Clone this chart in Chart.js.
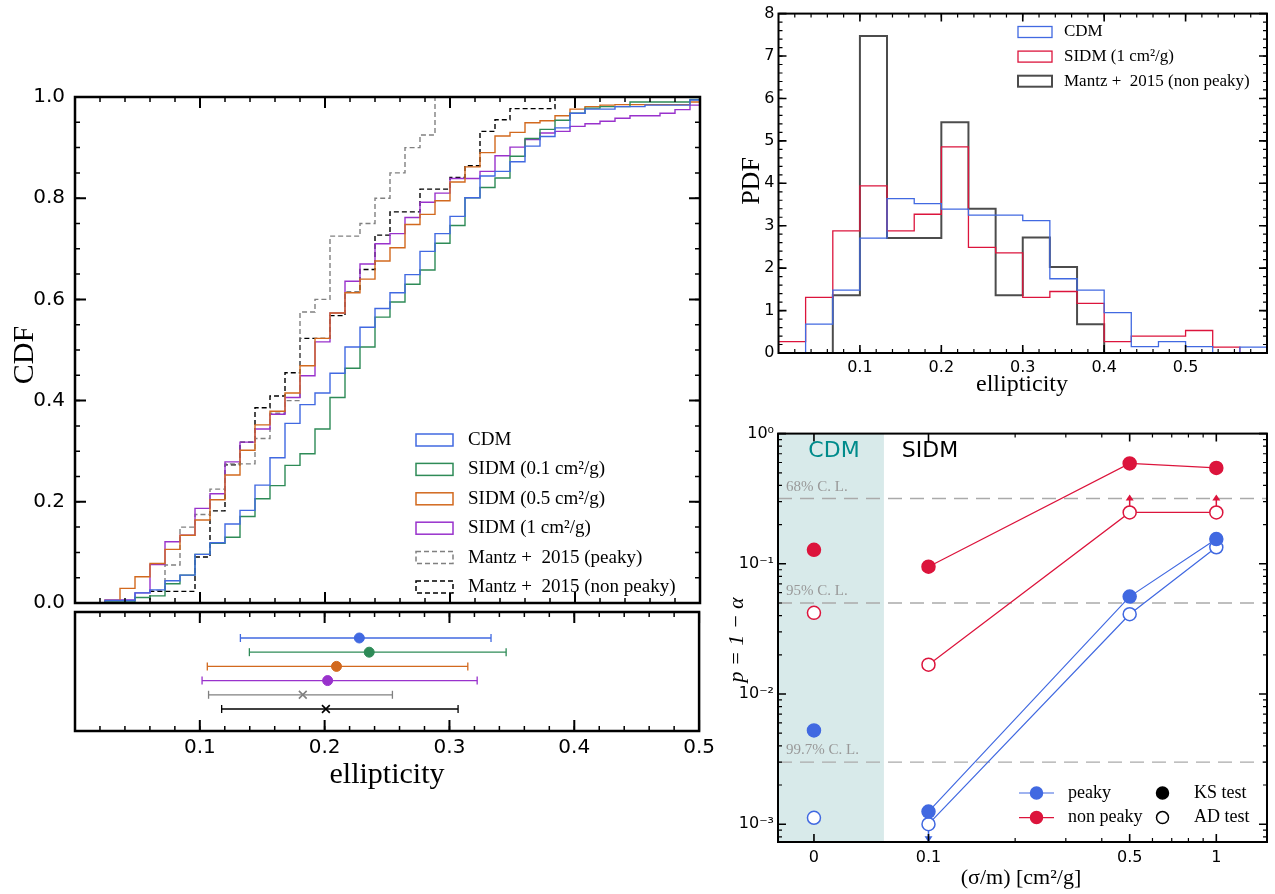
<!DOCTYPE html>
<html>
<head>
<meta charset="utf-8">
<script src="https://cdn.jsdelivr.net/npm/chart.js@4.4.1/dist/chart.umd.min.js"></script>
<style>
  body { margin: 0; background: #fff; }
  #wrap { position: relative; width: 1275px; height: 894px; overflow: hidden; background: #fff; }
  canvas { position: absolute; }
</style>
</head>
<body>
<div id="wrap">
  <canvas id="cdf" width="720" height="625" style="left:0;top:0"></canvas>
  <canvas id="err" width="720" height="294" style="left:0;top:600px"></canvas>
  <canvas id="pdf" width="555" height="420" style="left:720px;top:0"></canvas>
  <canvas id="pval" width="555" height="474" style="left:720px;top:420px"></canvas>
</div>
<script>
// ---- CDF panel (left, top) ----
const cdfEdges = [0.024, 0.036, 0.048, 0.060, 0.072, 0.084, 0.096, 0.108, 0.120, 0.132,
  0.144, 0.156, 0.168, 0.180, 0.192, 0.204, 0.216, 0.228, 0.240, 0.252,
  0.264, 0.276, 0.288, 0.300, 0.312, 0.324, 0.336, 0.348, 0.360, 0.372,
  0.384, 0.396, 0.408, 0.420, 0.432, 0.444, 0.456, 0.468, 0.480, 0.492];
const cdfCDM = [0.005, 0.005, 0.020, 0.026, 0.044, 0.055, 0.096, 0.119, 0.156, 0.183,
  0.233, 0.287, 0.355, 0.392, 0.415, 0.454, 0.506, 0.545, 0.582, 0.613,
  0.649, 0.695, 0.730, 0.764, 0.801, 0.844, 0.853, 0.872, 0.903, 0.922,
  0.939, 0.968, 0.976, 0.976, 0.981, 0.981, 0.984, 0.984, 0.984, 0.994];
const cdfSIDM01 = [0.002, 0.002, 0.011, 0.014, 0.038, 0.055, 0.096, 0.118, 0.130, 0.171,
  0.206, 0.232, 0.272, 0.295, 0.344, 0.406, 0.464, 0.506, 0.565, 0.595,
  0.630, 0.658, 0.711, 0.746, 0.801, 0.821, 0.840, 0.883, 0.918, 0.936,
  0.954, 0.968, 0.978, 0.981, 0.981, 0.990, 0.990, 0.990, 0.990, 0.995];
const cdfSIDM05 = [0.005, 0.029, 0.052, 0.078, 0.106, 0.134, 0.164, 0.204, 0.253, 0.302,
  0.352, 0.379, 0.415, 0.469, 0.523, 0.573, 0.613, 0.640, 0.676, 0.702,
  0.748, 0.768, 0.795, 0.832, 0.862, 0.890, 0.923, 0.930, 0.949, 0.953,
  0.963, 0.976, 0.981, 0.984, 0.985, 0.985, 0.985, 0.985, 0.985, 0.990];
const cdfSIDM1 = [0.006, 0.006, 0.020, 0.076, 0.121, 0.134, 0.187, 0.216, 0.279, 0.318,
  0.344, 0.373, 0.406, 0.449, 0.516, 0.573, 0.636, 0.670, 0.710, 0.730,
  0.762, 0.792, 0.810, 0.839, 0.839, 0.853, 0.884, 0.901, 0.916, 0.929,
  0.932, 0.942, 0.947, 0.952, 0.958, 0.963, 0.963, 0.968, 0.975, 0.984];
const cdfMantzPeaky = [0, 0, 0, 0.025, 0.075, 0.150, 0.175, 0.225, 0.275, 0.275,
  0.325, 0.375, 0.400, 0.575, 0.600, 0.725, 0.725, 0.750, 0.800, 0.850,
  0.900, 0.925, 1, 1, 1, 1, 1, 1, 1, 1,
  1, 1, 1, 1, 1, 1, 1, 1, 1, 1];
const cdfMantzNonPeaky = [0, 0, 0, 0.023, 0.023, 0.023, 0.091, 0.182, 0.273, 0.318,
  0.386, 0.409, 0.455, 0.523, 0.523, 0.568, 0.614, 0.659, 0.727, 0.773,
  0.773, 0.818, 0.818, 0.841, 0.864, 0.932, 0.955, 0.977, 0.977, 0.977,
  1, 1, 1, 1, 1, 1, 1, 1, 1, 1];
const cdfYTicks = [0.0, 0.2, 0.4, 0.6, 0.8, 1.0];
const ellTicks = [0.1, 0.2, 0.3, 0.4, 0.5];

// ---- mean / 1-sigma panel (left, bottom) ----
const errLow = [0.1325, 0.1397, 0.1060, 0.1018, 0.1070, 0.1175];
const errMid = [0.2278, 0.2357, 0.2095, 0.2024, 0.1825, 0.2010];
const errHigh = [0.3333, 0.3454, 0.3147, 0.3222, 0.2543, 0.3069];

// ---- PDF panel (right, top) ----
const pdfEdges = [0, 0.0333, 0.0667, 0.1, 0.1333, 0.1667, 0.2, 0.2333, 0.2667, 0.3,
  0.3333, 0.3667, 0.4, 0.4333, 0.4667, 0.5, 0.5333, 0.5667, 0.6];
const pdfCDM = [0, 0.68, 1.48, 2.71, 3.64, 3.52, 3.39, 3.25, 3.25, 3.12,
  1.75, 1.48, 0.95, 0.15, 0.27, 0.15, 0, 0.14];
const pdfSIDM1 = [0.27, 1.31, 2.88, 3.94, 2.88, 3.27, 4.86, 2.49, 2.36, 1.31,
  1.45, 1.17, 0.27, 0.40, 0.40, 0.53, 0.14, 0];
const pdfMantzNonPeaky = [0, 0, 1.36, 7.47, 2.71, 2.71, 5.44, 3.40, 1.36, 2.72,
  2.03, 0.68, 0, 0, 0, 0, 0, 0];
const pdfYTicks = [0, 1, 2, 3, 4, 5, 6, 7, 8];

// ---- p-value panel (right, bottom) ----
const sigmaLabels = ['0', '0.1', '0.5', '1'];
const sigmaPos = [0.04, 0.1, 0.5, 1];          // "0" (CDM) is placed at 0.04 on the log axis
const ksPeaky = [0.00525, 0.00125, 0.056, 0.155];
const adPeaky = [0.00112, 0.00100, 0.041, 0.134];
const ksNonPeaky = [0.128, 0.095, 0.59, 0.545];
const adNonPeaky = [0.042, 0.0168, 0.248, 0.248];
const adPeakyLimit = [0, -1, 0, 0];            // -1: upper limit arrow
const adNonPeakyLimit = [0, 0, 1, 1];          // +1: lower limit arrow
const clLevels = [0.317, 0.05, 0.003];
const clLabels = ['68% C. L.', '95% C. L.', '99.7% C. L.'];
const cdmBand = [0.03, 0.07];
const pYTicks = [0.001, 0.01, 0.1, 1];

const BLUE = '#4169e1', GREEN = '#2e8b57', ORANGE = '#d2691e', PURPLE = '#9932cc',
  GRAY = '#808080', BLACK = '#000000', RED = '#dc143c', TEAL = '#008b8b';
const SERIF = '"Liberation Serif", "DejaVu Serif", serif';
const SANS = '"DejaVu Sans", sans-serif';

function range(a, b, step) {
  const out = [];
  for (let v = a; v <= b + 1e-9; v += step) out.push(Math.round(v * 1e6) / 1e6);
  return out;
}
function stepPoints(edges, vals, xEnd) {
  const pts = [{ x: edges[0], y: 0 }];
  edges.forEach((e, i) => pts.push({ x: e, y: vals[i] }));
  pts.push({ x: xEnd, y: vals[vals.length - 1] });
  return pts;
}
function histPoints(edges, vals) {
  const pts = [{ x: edges[0], y: 0 }];
  vals.forEach((v, i) => pts.push({ x: edges[i], y: v }));
  pts.push({ x: edges[vals.length], y: 0 });
  return pts;
}
const fixTicks = vals => s => { s.ticks = vals.map(v => ({ value: v })); };

// inward ticks on all sides + black frame
const frameTicks = {
  id: 'frameTicks',
  afterDatasetsDraw(chart, args, o) {
    const { ctx, chartArea: a, scales } = chart;
    ctx.save();
    ctx.strokeStyle = '#000';
    const tick = (axis, vals, len, lw) => {
      if (!vals) return;
      ctx.lineWidth = lw;
      ctx.beginPath();
      vals.forEach(v => {
        if (axis === 'x') {
          const px = scales.x.getPixelForValue(v);
          ctx.moveTo(px, a.bottom); ctx.lineTo(px, a.bottom - len);
          ctx.moveTo(px, a.top); ctx.lineTo(px, a.top + len);
        } else {
          const py = scales.y.getPixelForValue(v);
          ctx.moveTo(a.left, py); ctx.lineTo(a.left + len, py);
          ctx.moveTo(a.right, py); ctx.lineTo(a.right - len, py);
        }
      });
      ctx.stroke();
    };
    tick('x', o.xMinor, o.minorLen, o.minorWidth);
    tick('x', o.xMajor, o.majorLen, o.majorWidth);
    tick('y', o.yMinor, o.minorLen, o.minorWidth);
    tick('y', o.yMajor, o.majorLen, o.majorWidth);
    ctx.lineWidth = o.frameWidth;
    ctx.strokeRect(a.left, a.top, a.right - a.left, a.bottom - a.top);
    ctx.restore();
  }
};

// free text (axis titles, annotations)
const textLabels = {
  id: 'textLabels',
  afterDraw(chart, args, o) {
    const ctx = chart.ctx;
    (o.items || []).forEach(t => {
      ctx.save();
      ctx.translate(t.x, t.y);
      if (t.rot) ctx.rotate(t.rot);
      ctx.font = t.font;
      ctx.fillStyle = t.color || '#000';
      ctx.textAlign = t.align || 'center';
      ctx.textBaseline = 'middle';
      ctx.fillText(t.text, 0, 0);
      ctx.restore();
    });
  }
};

// legend drawn at a fixed spot inside the axes
const legendBox = {
  id: 'legendBox',
  afterDraw(chart, args, o) {
    if (!o.items) return;
    const ctx = chart.ctx;
    ctx.save();
    ctx.font = o.font;
    ctx.textBaseline = 'middle';
    ctx.textAlign = 'left';
    o.items.forEach((it, i) => {
      const y = o.y + i * o.dy;
      const x = it.x !== undefined ? it.x : o.x;
      const yy = it.y !== undefined ? it.y : y;
      ctx.strokeStyle = it.color;
      ctx.lineWidth = it.width || 1.5;
      ctx.setLineDash(it.dash || []);
      if (it.kind === 'rect') {
        ctx.fillStyle = '#fff';
        ctx.fillRect(x, yy - o.h / 2, o.w, o.h);
        ctx.strokeRect(x, yy - o.h / 2, o.w, o.h);
      } else if (it.kind === 'line') {
        ctx.beginPath(); ctx.moveTo(x, yy); ctx.lineTo(x + o.w, yy); ctx.stroke();
      }
      ctx.setLineDash([]);
      if (it.marker) {
        ctx.beginPath();
        ctx.arc(x + o.w / 2, yy, 6, 0, Math.PI * 2);
        ctx.fillStyle = it.marker === 'open' ? '#fff' : it.color;
        ctx.fill();
        ctx.lineWidth = 1.5;
        ctx.stroke();
      }
      ctx.fillStyle = '#000';
      ctx.fillText(it.text, x + o.w + o.gap, yy);
    });
    ctx.restore();
  }
};

const baseOpts = (padding) => ({
  responsive: false,
  animation: false,
  devicePixelRatio: 1,
  layout: { padding },
  elements: { line: { tension: 0 } },
});

// ================= CDF =================
const cdfSeries = [
  { name: 'CDM', vals: cdfCDM, color: BLUE, dash: [] },
  { name: 'SIDM (0.1 cm²/g)', vals: cdfSIDM01, color: GREEN, dash: [] },
  { name: 'SIDM (0.5 cm²/g)', vals: cdfSIDM05, color: ORANGE, dash: [] },
  { name: 'SIDM (1 cm²/g)', vals: cdfSIDM1, color: PURPLE, dash: [] },
  { name: 'Mantz +  2015 (peaky)', vals: cdfMantzPeaky, color: GRAY, dash: [5, 3] },
  { name: 'Mantz +  2015 (non peaky)', vals: cdfMantzNonPeaky, color: BLACK, dash: [5, 3] },
];

new Chart(document.getElementById('cdf'), {
  type: 'line',
  data: {
    datasets: cdfSeries.map(s => ({
      label: s.name,
      data: stepPoints(cdfEdges, s.vals, 0.5),
      borderColor: s.color,
      borderWidth: 1.4,
      borderDash: s.dash,
      stepped: true,
      pointRadius: 0,
      fill: false,
    })),
  },
  options: {
    ...baseOpts({ left: 0, top: 97, right: 20, bottom: 14 }),
    plugins: {
      legend: { display: false },
      tooltip: { enabled: false },
      frameTicks: {
        xMajor: ellTicks, xMinor: range(0.02, 0.48, 0.02),
        yMajor: cdfYTicks, yMinor: range(0.05, 0.95, 0.05),
        majorLen: 11, minorLen: 5, majorWidth: 2, minorWidth: 1.5, frameWidth: 2.5,
      },
      legendBox: {
        x: 416, y: 440, dy: 29.4, w: 37, h: 12, gap: 15, font: '19px ' + SERIF,
        items: cdfSeries.map(s => ({ kind: 'rect', color: s.color, dash: s.dash, text: s.name })),
      },
      textLabels: {
        items: [{ text: 'CDF', x: 25, y: 355, rot: -Math.PI / 2, font: '30px ' + SERIF }],
      },
    },
    scales: {
      x: { type: 'linear', min: 0, max: 0.5, display: false },
      y: {
        type: 'linear', min: 0, max: 1,
        afterFit: s => { s.width = 75; },
        afterBuildTicks: fixTicks(cdfYTicks),
        grid: { display: false, drawTicks: false },
        border: { display: false },
        ticks: { font: { family: SANS, size: 20 }, color: '#000', padding: 10, callback: v => v.toFixed(1) },
      },
    },
  },
  plugins: [frameTicks, legendBox, textLabels],
});

// ================= mean +- spread =================
const errColors = [BLUE, GREEN, ORANGE, PURPLE, GRAY, BLACK];
const errDatasets = [];
errLow.forEach((lo, i) => {
  errDatasets.push({
    data: [{ x: lo, y: i + 1 }, { x: errHigh[i], y: i + 1 }],
    borderColor: errColors[i], borderWidth: 1.3,
    pointStyle: 'line', pointRotation: 90, pointRadius: 4,
    pointBorderColor: errColors[i], pointBorderWidth: 1.3,
  });
  errDatasets.push({
    data: [{ x: errMid[i], y: i + 1 }],
    showLine: false,
    pointStyle: i < 4 ? 'circle' : 'crossRot',
    pointRadius: i < 4 ? 5 : 5.5,
    pointBackgroundColor: errColors[i], pointBorderColor: errColors[i],
    pointBorderWidth: i < 4 ? 1 : 1.6,
  });
});

new Chart(document.getElementById('err'), {
  type: 'line',
  data: { datasets: errDatasets },
  options: {
    ...baseOpts({ left: 75, top: 12, right: 20, bottom: 133 }),
    plugins: {
      legend: { display: false },
      tooltip: { enabled: false },
      frameTicks: {
        xMajor: ellTicks, xMinor: range(0.02, 0.48, 0.02),
        majorLen: 11, minorLen: 5, majorWidth: 2, minorWidth: 1.5, frameWidth: 2.5,
      },
      textLabels: {
        items: [{ text: 'ellipticity', x: 387, y: 175, font: '30px ' + SERIF }],
      },
    },
    scales: {
      x: {
        type: 'linear', min: 0, max: 0.5,
        afterFit: s => { s.height = 30; },
        afterBuildTicks: fixTicks(ellTicks),
        grid: { display: false, drawTicks: false },
        border: { display: false },
        ticks: { font: { family: SANS, size: 20 }, color: '#000', padding: 5, maxRotation: 0, autoSkip: false, callback: v => v.toFixed(1) },
      },
      y: { type: 'linear', min: -0.83, max: 7.55, reverse: true, display: false },
    },
  },
  plugins: [frameTicks, textLabels],
});

// ================= PDF =================
const pdfSeries = [
  { name: 'CDM', vals: pdfCDM, color: BLUE, width: 1.3 },
  { name: 'SIDM (1 cm²/g)', vals: pdfSIDM1, color: RED, width: 1.3 },
  { name: 'Mantz +  2015 (non peaky)', vals: pdfMantzNonPeaky, color: 'rgba(0,0,0,0.7)', width: 2 },
];

new Chart(document.getElementById('pdf'), {
  type: 'line',
  data: {
    datasets: pdfSeries.map(s => ({
      label: s.name,
      data: histPoints(pdfEdges, s.vals),
      borderColor: s.color, borderWidth: s.width,
      stepped: true, pointRadius: 0, fill: false,
    })),
  },
  options: {
    ...baseOpts({ left: 0, top: 9, right: 8, bottom: 42 }),
    plugins: {
      legend: { display: false },
      tooltip: { enabled: false },
      frameTicks: {
        xMajor: [0.1, 0.2, 0.3, 0.4, 0.5], xMinor: range(0.02, 0.58, 0.02),
        yMajor: pdfYTicks, yMinor: range(0.2, 7.8, 0.2),
        majorLen: 8, minorLen: 4, majorWidth: 1.6, minorWidth: 1.2, frameWidth: 2,
      },
      legendBox: {
        x: 298, y: 32, dy: 24.6, w: 34, h: 11, gap: 12, font: '17px ' + SERIF,
        items: pdfSeries.map(s => ({ kind: 'rect', color: s.color, width: s.width, text: s.name })),
      },
      textLabels: {
        items: [
          { text: 'PDF', x: 32, y: 181, rot: -Math.PI / 2, font: '26px ' + SERIF },
          { text: 'ellipticity', x: 302, y: 385, font: '24px ' + SERIF },
        ],
      },
    },
    scales: {
      x: {
        type: 'linear', min: 0, max: 0.6,
        afterFit: s => { s.height = 25; },
        afterBuildTicks: fixTicks([0.1, 0.2, 0.3, 0.4, 0.5]),
        grid: { display: false, drawTicks: false },
        border: { display: false },
        ticks: { font: { family: SANS, size: 16 }, color: '#000', padding: 5, maxRotation: 0, autoSkip: false, callback: v => v.toFixed(1) },
      },
      y: {
        type: 'linear', min: 0, max: 8,
        afterFit: s => { s.width = 58.5; },
        afterBuildTicks: fixTicks(pdfYTicks),
        grid: { display: false, drawTicks: false },
        border: { display: false },
        ticks: { font: { family: SANS, size: 16 }, color: '#000', padding: 4, callback: v => String(v) },
      },
    },
  },
  plugins: [frameTicks, legendBox, textLabels],
});

// ================= p-values =================
const SUP = { '0': '⁰', '1': '¹', '2': '²', '3': '³', '-': '⁻' };
const supLabel = v => '10' + String(Math.round(Math.log10(v))).split('').map(c => SUP[c]).join('');

const bandPlugin = {
  id: 'bandPlugin',
  beforeDatasetsDraw(chart) {
    const { ctx, chartArea: a, scales } = chart;
    const x0 = Math.max(a.left, scales.x.getPixelForValue(cdmBand[0]));
    const x1 = scales.x.getPixelForValue(cdmBand[1]);
    ctx.save();
    ctx.fillStyle = '#d8eaea';
    ctx.fillRect(x0, a.top, x1 - x0, a.bottom - a.top);
    ctx.restore();
  },
  afterDatasetsDraw(chart) {
    const { ctx, chartArea: a, scales } = chart;
    ctx.save();
    ctx.font = '15px ' + SERIF;
    ctx.fillStyle = '#999';
    ctx.textBaseline = 'middle';
    clLevels.forEach((lv, i) => {
      ctx.fillText(clLabels[i], a.left + 8, scales.y.getPixelForValue(lv) - 12);
    });
    // limit arrows
    const arrow = (vals, flags, color) => {
      flags.forEach((f, j) => {
        if (!f) return;
        const px = scales.x.getPixelForValue(sigmaPos[j]);
        const py = scales.y.getPixelForValue(vals[j]);
        const dir = f > 0 ? -1 : 1;
        const y0 = py + dir * 6, yTip = py + dir * 18;
        ctx.strokeStyle = color; ctx.fillStyle = color; ctx.lineWidth = 1.5;
        ctx.beginPath(); ctx.moveTo(px, y0); ctx.lineTo(px, yTip - dir * 4); ctx.stroke();
        ctx.beginPath();
        ctx.moveTo(px, yTip);
        ctx.lineTo(px - 4, yTip - dir * 6);
        ctx.lineTo(px + 4, yTip - dir * 6);
        ctx.closePath(); ctx.fill();
      });
    };
    arrow(adPeaky, adPeakyLimit, BLUE);
    arrow(adNonPeaky, adNonPeakyLimit, RED);
    ctx.restore();
  }
};

const pSeries = [
  { vals: ksPeaky, color: BLUE, open: false },
  { vals: adPeaky, color: BLUE, open: true },
  { vals: ksNonPeaky, color: RED, open: false },
  { vals: adNonPeaky, color: RED, open: true },
];
const pDatasets = pSeries.map(s => ({
  data: sigmaPos.map((x, i) => ({ x, y: s.vals[i] })),
  borderColor: s.color, borderWidth: 1.2,
  segment: { borderColor: c => c.p0DataIndex === 0 ? 'rgba(0,0,0,0)' : s.color },
  pointRadius: 6.5, pointStyle: 'circle',
  pointBackgroundColor: s.open ? '#fff' : s.color,
  pointBorderColor: s.color, pointBorderWidth: 1.5,
}));
clLevels.forEach(lv => pDatasets.push({
  data: [{ x: 0.03, y: lv }, { x: 1.5, y: lv }],
  borderColor: '#aaaaaa', borderWidth: 1.4, borderDash: [14, 8], pointRadius: 0,
}));

new Chart(document.getElementById('pval'), {
  type: 'line',
  data: { datasets: pDatasets },
  options: {
    ...baseOpts({ left: 0, top: 9, right: 8, bottom: 27 }),
    plugins: {
      legend: { display: false },
      tooltip: { enabled: false },
      frameTicks: {
        xMajor: sigmaPos, xMinor: [0.2, 0.3, 0.4, 0.6, 0.7, 0.8, 0.9],
        yMajor: pYTicks,
        yMinor: [0.0008, 0.0009, 0.002, 0.003, 0.004, 0.005, 0.006, 0.007, 0.008, 0.009,
          0.02, 0.03, 0.04, 0.05, 0.06, 0.07, 0.08, 0.09, 0.2, 0.3, 0.4, 0.5, 0.6, 0.7, 0.8, 0.9],
        majorLen: 8, minorLen: 4, majorWidth: 1.6, minorWidth: 1.2, frameWidth: 2,
      },
      legendBox: {
        x: 299, y: 373, dy: 24.6, w: 35, h: 12, gap: 14, font: '18px ' + SERIF,
        items: [
          { kind: 'line', color: BLUE, width: 1.2, marker: 'fill', text: 'peaky' },
          { kind: 'line', color: RED, width: 1.2, marker: 'fill', text: 'non peaky' },
          { kind: 'none', color: '#000', marker: 'fill', text: 'KS test', x: 425, y: 373 },
          { kind: 'none', color: '#000', marker: 'open', text: 'AD test', x: 425, y: 397.6 },
        ],
      },
      textLabels: {
        items: [
          { text: 'CDM', x: 114, y: 31, font: '22px ' + SANS, color: TEAL },
          { text: 'SIDM', x: 210, y: 31, font: '22px ' + SANS },
          { text: 'p = 1 − α', x: 17, y: 220, rot: -Math.PI / 2, font: 'italic 22px ' + SERIF },
          { text: '(σ/m) [cm²/g]', x: 301, y: 458, font: '22px ' + SERIF },
        ],
      },
    },
    scales: {
      x: {
        type: 'logarithmic', min: 0.03, max: 1.5,
        afterFit: s => { s.height = 25; },
        afterBuildTicks: fixTicks(sigmaPos),
        grid: { display: false, drawTicks: false },
        border: { display: false },
        ticks: {
          font: { family: SANS, size: 16 }, color: '#000', padding: 6, maxRotation: 0, autoSkip: false,
          callback: v => sigmaLabels[sigmaPos.findIndex(p => Math.abs(p - v) < 1e-9)],
        },
      },
      y: {
        type: 'logarithmic', min: 0.00073, max: 1,
        afterFit: s => { s.width = 58; },
        afterBuildTicks: fixTicks(pYTicks),
        grid: { display: false, drawTicks: false },
        border: { display: false },
        ticks: { font: { family: SANS, size: 16 }, color: '#000', padding: 4, autoSkip: false, callback: v => supLabel(v) },
      },
    },
  },
  plugins: [bandPlugin, frameTicks, legendBox, textLabels],
});
</script>
</body>
</html>
